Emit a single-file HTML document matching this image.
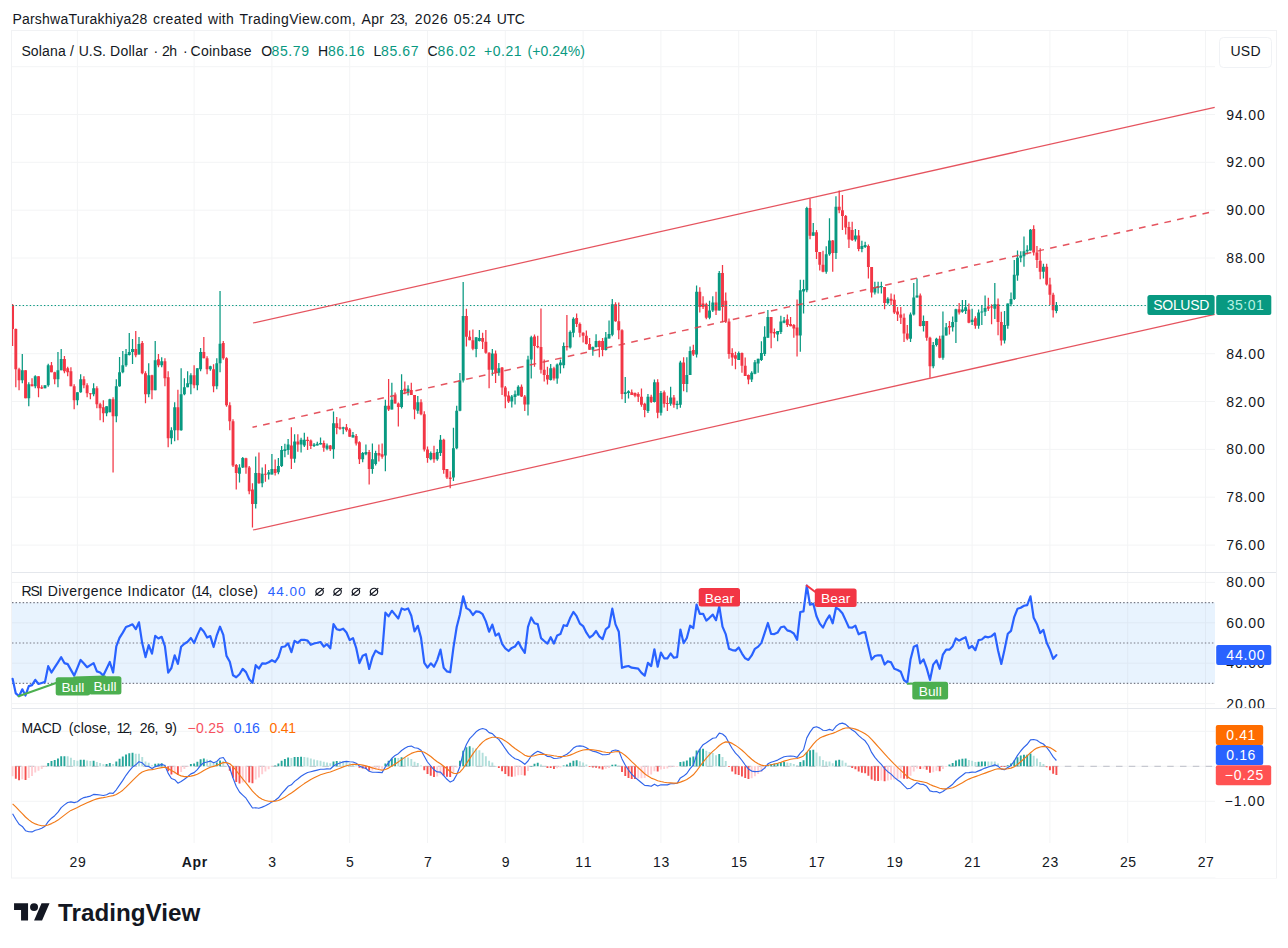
<!DOCTYPE html><html><head><meta charset="utf-8"><title>SOLUSD chart</title><style>html,body{margin:0;padding:0;background:#fff}body{width:1288px;height:948px;overflow:hidden;font-family:"Liberation Sans",sans-serif}svg{display:block}</style></head><body><svg width="1288" height="948" viewBox="0 0 1288 948" font-family="Liberation Sans, sans-serif">
<rect width="1288" height="948" fill="#fff"/>
<path d="M77.4 31V843 M194.1 31V843 M271.9 31V843 M349.7 31V843 M427.5 31V843 M505.3 31V843 M583.1 31V843 M660.9 31V843 M738.7 31V843 M816.5 31V843 M894.3 31V843 M972.1 31V843 M1049.9 31V843 M1127.7 31V843 M1205.5 31V843 M12 545.1H1215.0 M12 497.2H1215.0 M12 449.4H1215.0 M12 401.5H1215.0 M12 353.7H1215.0 M12 305.9H1215.0 M12 258.0H1215.0 M12 210.2H1215.0 M12 162.3H1215.0 M12 114.5H1215.0 M12 66.7H1215.0 M12 582.4H1215.0 M12 622.8H1215.0 M12 663.2H1215.0 M12 703.6H1215.0 M12 731.3H1215.0 M12 766.3H1215.0 M12 801.3H1215.0" stroke="#f3f4f5" stroke-width="1" fill="none"/>
<rect x="11.5" y="30.5" width="1265" height="847.5" fill="none" stroke="#f1f2f4" stroke-width="1"/>
<path d="M12 572.5H1276 M12 708.5H1276" stroke="#e4e7ec" stroke-width="1" fill="none"/>
<rect x="12" y="602.6" width="1203.0" height="80.8" fill="#e8f3fe"/>
<path d="M77.4 602.6V683.4 M194.1 602.6V683.4 M271.9 602.6V683.4 M349.7 602.6V683.4 M427.5 602.6V683.4 M505.3 602.6V683.4 M583.1 602.6V683.4 M660.9 602.6V683.4 M738.7 602.6V683.4 M816.5 602.6V683.4 M894.3 602.6V683.4 M972.1 602.6V683.4 M1049.9 602.6V683.4 M1127.7 602.6V683.4 M1205.5 602.6V683.4 M12 622.8H1215.0 M12 663.2H1215.0" stroke="#dfe9f4" stroke-width="1" fill="none"/>
<path d="M12 602.6H1215.0" stroke="#787b86" stroke-width="1.1" stroke-dasharray="1.5 2.05" fill="none"/>
<path d="M12 643.0H1215.0" stroke="#787b86" stroke-width="1.1" stroke-dasharray="1.5 2.05" fill="none"/>
<path d="M12 683.4H1215.0" stroke="#787b86" stroke-width="1.1" stroke-dasharray="1.5 2.05" fill="none"/>
<clipPath id="cp"><rect x="12" y="31" width="1203" height="812"/></clipPath><g clip-path="url(#cp)">
<path d="M22.30 354.1V383.2M28.78 382.2V406.2M35.26 375.2V388.2M44.99 385.2V388.2M48.23 363.7V386.7M57.96 352.1V387.2M61.20 349.1V370.2M77.41 392.2V405.2M80.65 374.2V392.7M93.62 383.2V396.2M106.58 406.2V416.3M109.82 398.7V412.2M116.31 379.2V422.3M119.55 357.1V386.7M122.79 351.1V373.2M126.03 349.1V366.7M129.27 333.1V355.6M132.52 339.1V364.1M139.00 337.1V354.5M148.72 363.2V397.2M155.21 341.1V390.2M161.69 357.2V367.2M171.42 427.3V444.3M174.66 402.2V441.3M181.14 368.2V430.8M184.38 378.2V395.2M187.62 371.2V387.2M190.87 373.2V394.2M197.35 368.2V390.2M200.59 348.1V371.2M210.32 365.7V370.7M216.80 358.2V389.2M220.04 291.0V372.2M239.49 464.3V482.5M242.73 457.0V468.0M255.70 456.4V508.6M262.18 467.5V487.3M268.67 469.9V479.4M271.91 454.1V474.6M278.39 458.0V474.2M281.63 446.1V466.9M284.88 443.8V457.2M288.12 439.0V454.8M294.60 434.3V462.8M301.08 437.8V452.5M304.33 432.7V446.9M314.05 443.1V447.1M317.29 441.8V445.4M320.53 437.4V444.6M327.02 443.4V450.3M333.50 411.4V458.8M343.23 426.7V434.3M352.95 431.9V437.4M362.68 452.1V462.2M365.92 444.6V455.3M372.40 443.4V473.7M375.64 450.7V465.5M385.37 399.8V471.3M391.85 382.8V409.5M401.58 374.3V408.5M408.06 385.2V395.5M417.79 396.1V413.7M430.75 451.6V460.2M437.24 448.9V460.7M440.48 434.9V456.1M453.44 427.7V481.0M456.69 405.8V449.3M459.93 373.1V411.2M463.17 282.1V382.4M476.14 337.3V357.2M479.38 329.9V341.5M492.34 349.1V375.7M498.83 363.1V375.7M511.79 394.9V407.4M515.04 390.5V404.5M518.28 385.3V395.6M528.00 355.7V415.6M531.24 335.8V378.6M550.69 363.9V380.6M557.18 363.6V383.8M560.42 359.4V373.5M563.66 342.4V368.3M570.15 330.6V348.6M573.39 317.3V337.3M592.84 346.4V355.7M596.08 334.3V347.4M605.80 332.1V350.5M609.05 320.4V338.4M612.29 298.9V336.3M625.25 376.9V402.9M628.50 390.3V398.4M647.95 394.0V413.0M654.43 379.6V402.5M660.91 391.1V415.5M670.64 386.8V405.8M677.12 400.8V409.2M680.36 360.8V407.7M686.85 357.2V392.2M690.09 346.4V375.1M696.57 285.5V357.5M709.54 300.7V319.3M712.78 296.2V312.1M719.26 271.1V310.6M738.71 351.4V359.9M751.68 371.2V381.9M754.92 359.9V374.3M758.16 358.7V372.7M761.41 341.3V360.9M764.65 326.2V356.1M767.89 310.0V337.8M777.61 330.9V341.3M780.86 315.8V334.0M784.10 317.0V323.3M800.31 279.8V351.8M803.55 279.8V313.5M806.79 206.7V292.3M813.27 222.9V235.7M826.24 246.2V273.7M829.48 218.3V255.8M835.96 196.2V258.9M855.41 229.0V241.6M861.90 240.7V252.3M865.14 241.7V248.0M874.86 281.8V294.5M878.11 281.8V293.4M881.35 281.8V293.4M887.83 297.2V304.4M910.52 312.4V342.0M913.77 282.9V315.5M917.01 278.6V297.6M923.49 315.6V331.4M933.22 342.1V368.3M936.46 337.8V346.6M942.94 311.4V359.8M946.18 323.0V335.6M952.67 316.6V331.4M955.91 308.7V343.0M962.39 299.9V312.7M965.63 299.9V313.9M972.12 308.7V325.0M978.60 309.5V328.7M981.84 305.0V325.0M985.08 295.4V316.1M994.81 282.9V319.1M1004.53 310.9V343.4M1007.77 303.6V328.7M1011.02 292.5V306.3M1014.26 260.0V300.1M1017.50 250.4V280.7M1020.74 251.2V262.2M1023.98 236.4V266.7M1027.22 245.3V254.2M1030.47 229.0V250.4M1043.43 263.7V278.5M1056.40 302.1V313.2" stroke="#089981" stroke-width="1.25" fill="none"/>
<path d="M12.57 304.0V346.1M15.81 328.6V387.2M19.06 367.7V390.2M25.54 370.2V398.2M32.02 378.2V386.2M38.51 376.2V397.2M41.75 385.2V389.1M51.47 362.1V372.2M54.71 371.7V384.2M64.44 356.1V373.2M67.68 366.7V376.2M70.92 367.2V386.2M74.16 384.2V409.2M83.89 376.2V388.2M87.13 383.2V397.2M90.37 393.2V399.2M96.86 386.2V408.2M100.10 402.7V420.3M103.34 400.2V422.3M113.07 397.2V472.4M135.76 331.1V357.2M142.24 341.1V374.2M145.48 371.2V403.2M151.97 374.7V399.2M158.45 354.1V367.2M164.93 358.2V386.2M168.17 371.2V447.3M177.90 389.8V440.3M194.11 365.2V388.2M203.83 337.1V358.2M207.07 356.2V374.2M213.56 364.2V392.2M223.28 341.1V359.7M226.52 357.2V406.8M229.77 402.2V430.3M233.01 419.3V466.9M236.25 464.1V489.6M245.98 457.8V473.8M249.22 465.9V494.2M252.46 483.3V527.6M258.94 452.5V483.8M265.43 464.3V481.7M275.15 459.6V475.4M291.36 427.2V469.1M297.84 434.3V451.7M307.57 436.7V450.1M310.81 439.6V449.1M323.78 440.6V451.7M330.26 444.9V450.9M336.74 416.9V434.3M339.98 418.5V429.7M346.47 424.0V431.8M349.71 428.0V436.7M356.19 434.1V445.4M359.43 441.2V464.0M369.16 449.9V484.6M378.88 444.6V461.6M382.13 443.4V458.8M388.61 379.1V411.0M395.09 392.5V403.4M398.33 402.4V426.4M404.82 381.6V394.3M411.30 382.8V394.9M414.54 394.9V419.2M421.03 399.2V415.3M424.27 411.3V451.5M427.51 446.5V462.8M433.99 445.8V462.8M443.72 438.8V473.7M446.96 468.9V478.9M450.20 471.3V488.3M466.41 308.8V346.4M469.65 330.6V340.3M472.89 329.4V350.3M482.62 332.8V349.1M485.86 329.9V353.8M489.10 352.3V388.2M495.59 350.5V383.1M502.07 367.1V394.9M505.31 386.0V408.2M508.55 391.2V403.0M521.52 384.5V396.9M524.76 394.9V411.1M534.49 334.5V366.8M537.73 335.8V348.3M540.97 308.5V373.5M544.21 359.4V381.6M547.45 366.8V384.5M553.94 366.8V380.6M566.90 315.1V350.6M576.63 313.6V327.0M579.87 322.5V337.3M583.11 332.3V342.4M586.35 330.6V344.4M589.60 338.0V349.8M599.32 340.5V357.2M602.56 338.1V356.3M615.53 302.3V321.8M618.77 302.5V339.3M622.01 329.3V399.3M631.74 389.5V394.9M634.98 392.6V397.3M638.22 392.2V402.0M641.46 388.6V406.7M644.70 402.8V417.3M651.19 394.7V403.0M657.67 379.3V418.2M664.15 390.4V407.4M667.40 395.8V411.0M673.88 394.9V407.7M683.60 357.2V391.3M693.33 344.7V356.0M699.81 287.3V312.4M703.05 296.2V309.0M706.30 302.8V319.3M716.02 291.8V315.1M722.50 264.9V322.2M725.75 292.6V323.1M728.99 318.6V358.7M732.23 348.3V365.7M735.47 351.8V369.2M741.96 352.4V372.7M745.20 357.6V376.1M748.44 374.5V384.3M771.13 317.0V348.3M774.37 328.6V337.8M787.34 314.6V327.1M790.58 317.0V326.2M793.82 324.1V337.8M797.06 299.5V356.4M810.03 198.6V239.2M816.51 229.9V258.9M819.76 252.0V270.5M823.00 250.8V272.2M832.72 239.9V271.7M839.21 190.4V213.2M842.45 195.1V229.9M845.69 215.0V234.5M848.93 221.7V248.0M852.17 221.7V241.0M858.66 230.1V251.2M868.38 244.4V278.6M871.62 267.0V297.6M884.59 287.1V309.2M891.07 293.4V305.0M894.32 294.5V313.9M897.56 307.1V320.9M900.80 307.1V324.0M904.04 313.5V342.0M907.28 325.1V340.3M920.25 293.4V326.6M926.73 320.9V340.7M929.97 336.7V377.8M939.70 335.8V358.3M949.42 320.9V334.6M959.15 302.9V314.4M968.87 303.6V323.2M975.36 316.3V328.7M988.32 297.7V310.9M991.57 304.3V324.2M998.05 298.4V335.3M1001.29 311.7V345.6M1033.71 225.3V255.6M1036.95 246.0V268.1M1040.19 248.2V279.2M1046.67 263.7V285.4M1049.92 277.7V305.0M1053.16 292.7V317.6" stroke="#f23645" stroke-width="1.25" fill="none"/>
<path d="M20.85 370.2h2.9V380.2h-2.9zM27.33 384.2h2.9V398.2h-2.9zM33.81 376.2h2.9V386.2h-2.9zM43.54 385.2h2.9V388.2h-2.9zM46.78 365.2h2.9V385.2h-2.9zM56.51 370.2h2.9V379.2h-2.9zM59.75 359.1h2.9V370.2h-2.9zM75.96 392.2h2.9V400.2h-2.9zM79.20 379.2h2.9V392.2h-2.9zM92.17 388.2h2.9V394.2h-2.9zM105.13 406.2h2.9V413.2h-2.9zM108.37 399.2h2.9V412.2h-2.9zM114.86 386.2h2.9V416.3h-2.9zM118.10 372.2h2.9V386.2h-2.9zM121.34 365.2h2.9V372.2h-2.9zM124.58 354.1h2.9V365.2h-2.9zM127.82 352.1h2.9V355.1h-2.9zM131.07 349.1h2.9V352.1h-2.9zM137.55 344.1h2.9V354.5h-2.9zM147.27 375.2h2.9V394.2h-2.9zM153.76 360.2h2.9V390.2h-2.9zM160.24 361.2h2.9V365.2h-2.9zM169.97 430.3h2.9V438.3h-2.9zM173.21 407.3h2.9V430.3h-2.9zM179.69 394.2h2.9V430.3h-2.9zM182.93 387.2h2.9V394.2h-2.9zM186.17 383.2h2.9V387.2h-2.9zM189.42 375.2h2.9V384.2h-2.9zM195.90 368.2h2.9V385.2h-2.9zM199.14 352.1h2.9V369.2h-2.9zM208.87 366.2h2.9V369.2h-2.9zM215.35 363.2h2.9V386.2h-2.9zM218.59 343.7h2.9V363.2h-2.9zM238.04 467.5h2.9V473.8h-2.9zM241.28 458.0h2.9V467.5h-2.9zM254.25 473.0h2.9V503.9h-2.9zM260.73 473.8h2.9V483.3h-2.9zM267.22 472.2h2.9V474.6h-2.9zM270.46 469.1h2.9V474.6h-2.9zM276.94 465.9h2.9V472.2h-2.9zM280.18 450.1h2.9V465.9h-2.9zM283.43 449.3h2.9V450.9h-2.9zM286.67 444.6h2.9V450.1h-2.9zM293.15 441.4h2.9V458.8h-2.9zM299.63 439.8h2.9V444.6h-2.9zM302.88 439.8h2.9V445.4h-2.9zM312.60 444.6h2.9V446.1h-2.9zM315.84 443.8h2.9V445.4h-2.9zM319.08 443.0h2.9V444.6h-2.9zM325.57 445.4h2.9V448.8h-2.9zM332.05 423.2h2.9V449.3h-2.9zM341.78 427.2h2.9V428.7h-2.9zM351.50 434.9h2.9V437.4h-2.9zM361.23 453.1h2.9V459.2h-2.9zM364.47 451.9h2.9V454.3h-2.9zM370.95 459.2h2.9V468.9h-2.9zM374.19 453.1h2.9V464.0h-2.9zM383.92 405.8h2.9V455.5h-2.9zM390.40 399.8h2.9V409.5h-2.9zM400.13 390.1h2.9V407.0h-2.9zM406.61 388.8h2.9V392.5h-2.9zM416.34 402.2h2.9V410.7h-2.9zM429.30 453.1h2.9V459.2h-2.9zM435.79 451.9h2.9V459.2h-2.9zM439.03 439.8h2.9V453.1h-2.9zM451.99 448.3h2.9V477.4h-2.9zM455.24 410.7h2.9V448.3h-2.9zM458.48 380.4h2.9V410.7h-2.9zM461.72 316.1h2.9V380.4h-2.9zM474.69 337.3h2.9V349.1h-2.9zM477.93 338.0h2.9V341.0h-2.9zM490.89 353.5h2.9V369.8h-2.9zM497.38 368.3h2.9V372.7h-2.9zM510.34 396.4h2.9V401.5h-2.9zM513.59 394.2h2.9V397.1h-2.9zM516.83 386.8h2.9V395.6h-2.9zM526.55 359.4h2.9V404.5h-2.9zM529.79 337.3h2.9V359.4h-2.9zM549.24 368.3h2.9V380.1h-2.9zM555.73 364.6h2.9V378.6h-2.9zM558.97 362.4h2.9V365.3h-2.9zM562.21 346.1h2.9V365.3h-2.9zM568.70 332.1h2.9V347.6h-2.9zM571.94 318.8h2.9V332.8h-2.9zM591.39 346.9h2.9V349.8h-2.9zM594.63 341.0h2.9V346.9h-2.9zM604.35 337.5h2.9V350.0h-2.9zM607.60 333.9h2.9V338.4h-2.9zM610.84 304.3h2.9V334.8h-2.9zM623.80 392.2h2.9V394.0h-2.9zM627.05 391.3h2.9V393.1h-2.9zM646.50 396.7h2.9V411.0h-2.9zM652.98 382.3h2.9V402.0h-2.9zM659.46 393.1h2.9V412.8h-2.9zM669.19 397.5h2.9V403.8h-2.9zM675.67 403.8h2.9V404.9h-2.9zM678.91 362.6h2.9V404.7h-2.9zM685.40 375.1h2.9V384.1h-2.9zM688.64 350.9h2.9V375.1h-2.9zM695.12 291.8h2.9V354.5h-2.9zM708.09 310.6h2.9V317.8h-2.9zM711.33 302.5h2.9V310.6h-2.9zM717.81 272.9h2.9V310.6h-2.9zM737.26 352.9h2.9V359.9h-2.9zM750.23 372.7h2.9V379.6h-2.9zM753.47 362.2h2.9V373.8h-2.9zM756.71 358.7h2.9V363.4h-2.9zM759.96 352.9h2.9V359.9h-2.9zM763.20 336.7h2.9V354.1h-2.9zM766.44 317.0h2.9V337.8h-2.9zM776.16 330.9h2.9V334.4h-2.9zM779.41 321.6h2.9V332.0h-2.9zM782.65 320.4h2.9V322.8h-2.9zM798.86 290.3h2.9V335.5h-2.9zM802.10 289.1h2.9V291.4h-2.9zM805.34 207.9h2.9V290.3h-2.9zM811.82 232.2h2.9V235.7h-2.9zM824.79 254.3h2.9V271.7h-2.9zM828.03 240.4h2.9V254.3h-2.9zM834.51 206.7h2.9V253.1h-2.9zM853.96 235.4h2.9V239.6h-2.9zM860.45 245.9h2.9V249.1h-2.9zM863.69 244.9h2.9V247.0h-2.9zM873.41 287.1h2.9V292.4h-2.9zM876.66 286.0h2.9V288.1h-2.9zM879.90 286.0h2.9V287.3h-2.9zM886.38 298.7h2.9V302.9h-2.9zM909.07 314.5h2.9V338.8h-2.9zM912.32 297.6h2.9V314.5h-2.9zM915.56 295.5h2.9V297.6h-2.9zM922.04 320.9h2.9V326.1h-2.9zM931.77 345.1h2.9V366.2h-2.9zM935.01 338.8h2.9V345.1h-2.9zM941.49 335.6h2.9V357.8h-2.9zM944.73 327.2h2.9V335.6h-2.9zM951.22 321.9h2.9V327.2h-2.9zM954.46 309.2h2.9V321.9h-2.9zM960.94 309.5h2.9V311.7h-2.9zM964.18 307.3h2.9V310.9h-2.9zM970.67 319.8h2.9V322.0h-2.9zM977.15 312.4h2.9V325.7h-2.9zM980.39 311.6h2.9V312.6h-2.9zM983.63 308.0h2.9V311.7h-2.9zM993.36 304.3h2.9V308.7h-2.9zM1003.08 325.0h2.9V340.5h-2.9zM1006.32 303.6h2.9V325.7h-2.9zM1009.57 299.1h2.9V304.3h-2.9zM1012.81 274.8h2.9V299.1h-2.9zM1016.05 257.8h2.9V275.5h-2.9zM1019.29 255.6h2.9V257.8h-2.9zM1022.53 251.2h2.9V256.3h-2.9zM1025.77 249.7h2.9V251.2h-2.9zM1029.02 229.8h2.9V250.4h-2.9zM1041.98 266.7h2.9V271.8h-2.9zM1054.95 305.0h2.9V310.9h-2.9z" fill="#089981"/>
<path d="M11.12 305.0h2.9V329.1h-2.9zM14.36 329.1h2.9V369.2h-2.9zM17.61 369.2h2.9V380.2h-2.9zM24.09 370.2h2.9V398.2h-2.9zM30.57 384.2h2.9V386.2h-2.9zM37.06 376.2h2.9V388.2h-2.9zM40.30 387.2h2.9V388.6h-2.9zM50.02 365.2h2.9V372.2h-2.9zM53.26 372.2h2.9V379.2h-2.9zM62.99 359.1h2.9V371.2h-2.9zM66.23 368.2h2.9V372.2h-2.9zM69.47 371.2h2.9V386.2h-2.9zM72.71 386.2h2.9V400.2h-2.9zM82.44 379.2h2.9V385.2h-2.9zM85.68 385.2h2.9V393.2h-2.9zM88.92 393.2h2.9V394.2h-2.9zM95.41 388.2h2.9V404.2h-2.9zM98.65 404.2h2.9V408.2h-2.9zM101.89 407.2h2.9V413.2h-2.9zM111.62 399.2h2.9V416.3h-2.9zM134.31 349.1h2.9V355.2h-2.9zM140.79 343.1h2.9V373.2h-2.9zM144.03 373.2h2.9V394.2h-2.9zM150.52 375.2h2.9V390.2h-2.9zM157.00 359.2h2.9V365.2h-2.9zM163.48 361.2h2.9V378.2h-2.9zM166.72 377.2h2.9V438.3h-2.9zM176.45 407.3h2.9V430.3h-2.9zM192.66 375.2h2.9V385.2h-2.9zM202.38 352.1h2.9V358.2h-2.9zM205.62 358.2h2.9V369.2h-2.9zM212.11 369.2h2.9V386.2h-2.9zM221.83 343.1h2.9V358.2h-2.9zM225.07 358.2h2.9V405.3h-2.9zM228.32 405.3h2.9V421.3h-2.9zM231.56 421.3h2.9V465.4h-2.9zM234.80 465.1h2.9V473.0h-2.9zM244.53 458.3h2.9V467.5h-2.9zM247.77 467.5h2.9V491.2h-2.9zM251.01 489.6h2.9V503.9h-2.9zM257.49 473.0h2.9V483.3h-2.9zM263.98 473.8h2.9V474.8h-2.9zM273.70 469.1h2.9V473.0h-2.9zM289.91 445.4h2.9V458.8h-2.9zM296.39 441.4h2.9V444.6h-2.9zM306.12 439.8h2.9V440.9h-2.9zM309.36 440.6h2.9V446.1h-2.9zM322.33 443.0h2.9V447.7h-2.9zM328.81 445.4h2.9V449.3h-2.9zM335.29 423.2h2.9V428.0h-2.9zM338.53 427.2h2.9V428.7h-2.9zM345.02 427.2h2.9V430.3h-2.9zM348.26 429.5h2.9V436.7h-2.9zM354.74 436.1h2.9V443.4h-2.9zM357.98 442.2h2.9V459.2h-2.9zM367.71 451.9h2.9V468.9h-2.9zM377.43 453.1h2.9V455.5h-2.9zM380.68 454.3h2.9V456.8h-2.9zM387.16 405.8h2.9V409.5h-2.9zM393.64 396.1h2.9V403.4h-2.9zM396.88 403.4h2.9V407.0h-2.9zM403.37 388.8h2.9V391.3h-2.9zM409.85 390.1h2.9V394.9h-2.9zM413.09 394.9h2.9V409.5h-2.9zM419.58 402.2h2.9V414.3h-2.9zM422.82 414.3h2.9V449.5h-2.9zM426.06 449.5h2.9V458.0h-2.9zM432.54 453.1h2.9V459.2h-2.9zM442.27 439.8h2.9V470.1h-2.9zM445.51 468.9h2.9V477.4h-2.9zM448.75 477.4h2.9V479.1h-2.9zM464.96 316.1h2.9V336.7h-2.9zM468.20 336.7h2.9V340.3h-2.9zM471.44 340.3h2.9V348.8h-2.9zM481.17 338.0h2.9V341.7h-2.9zM484.41 341.7h2.9V352.8h-2.9zM487.65 352.8h2.9V369.8h-2.9zM494.14 353.5h2.9V372.7h-2.9zM500.62 367.6h2.9V387.5h-2.9zM503.86 387.5h2.9V396.4h-2.9zM507.10 395.6h2.9V401.5h-2.9zM520.07 386.8h2.9V396.4h-2.9zM523.31 396.4h2.9V404.5h-2.9zM533.04 336.5h2.9V346.1h-2.9zM536.28 346.1h2.9V347.3h-2.9zM539.52 346.9h2.9V369.8h-2.9zM542.76 369.8h2.9V374.9h-2.9zM546.00 374.9h2.9V379.4h-2.9zM552.49 368.3h2.9V378.6h-2.9zM565.45 346.1h2.9V347.2h-2.9zM575.18 318.1h2.9V324.0h-2.9zM578.42 324.0h2.9V332.8h-2.9zM581.66 332.8h2.9V335.8h-2.9zM584.90 335.8h2.9V343.9h-2.9zM588.15 343.9h2.9V349.8h-2.9zM597.87 341.0h2.9V346.9h-2.9zM601.11 341.1h2.9V350.0h-2.9zM614.08 304.3h2.9V321.3h-2.9zM617.32 321.3h2.9V330.3h-2.9zM620.56 330.3h2.9V394.0h-2.9zM630.29 392.2h2.9V394.9h-2.9zM633.53 393.1h2.9V395.8h-2.9zM636.77 394.0h2.9V396.7h-2.9zM640.01 396.7h2.9V404.7h-2.9zM643.25 403.8h2.9V410.1h-2.9zM649.74 396.7h2.9V402.0h-2.9zM656.22 382.3h2.9V412.8h-2.9zM662.70 392.2h2.9V403.8h-2.9zM665.95 402.9h2.9V404.0h-2.9zM672.43 397.5h2.9V404.7h-2.9zM682.15 362.6h2.9V384.1h-2.9zM691.88 350.0h2.9V354.5h-2.9zM698.36 291.8h2.9V307.0h-2.9zM701.60 303.4h2.9V307.0h-2.9zM704.85 304.3h2.9V317.8h-2.9zM714.57 302.5h2.9V310.6h-2.9zM721.05 272.9h2.9V307.0h-2.9zM724.30 300.7h2.9V321.6h-2.9zM727.54 321.6h2.9V354.1h-2.9zM730.78 352.9h2.9V357.6h-2.9zM734.02 355.3h2.9V358.7h-2.9zM740.51 352.9h2.9V365.7h-2.9zM743.75 365.7h2.9V376.1h-2.9zM746.99 375.0h2.9V379.6h-2.9zM769.68 317.0h2.9V333.2h-2.9zM772.92 332.0h2.9V333.4h-2.9zM785.89 319.3h2.9V325.1h-2.9zM789.13 323.9h2.9V326.2h-2.9zM792.37 325.1h2.9V328.6h-2.9zM795.61 327.4h2.9V335.5h-2.9zM808.58 207.9h2.9V235.7h-2.9zM815.06 232.2h2.9V252.0h-2.9zM818.31 252.0h2.9V264.7h-2.9zM821.55 264.7h2.9V271.7h-2.9zM831.27 240.4h2.9V253.1h-2.9zM837.76 206.7h2.9V210.2h-2.9zM841.00 210.2h2.9V216.0h-2.9zM844.24 216.0h2.9V227.6h-2.9zM847.48 226.9h2.9V239.6h-2.9zM850.72 230.1h2.9V240.0h-2.9zM857.21 235.4h2.9V249.1h-2.9zM866.93 245.9h2.9V267.0h-2.9zM870.17 267.0h2.9V292.4h-2.9zM883.14 287.1h2.9V302.9h-2.9zM889.62 298.7h2.9V300.8h-2.9zM892.87 299.8h2.9V312.4h-2.9zM896.11 311.4h2.9V314.5h-2.9zM899.35 314.5h2.9V317.7h-2.9zM902.59 317.7h2.9V333.5h-2.9zM905.83 333.5h2.9V338.8h-2.9zM918.80 295.5h2.9V326.1h-2.9zM925.28 320.9h2.9V337.7h-2.9zM928.52 337.7h2.9V366.2h-2.9zM938.25 338.8h2.9V357.8h-2.9zM947.97 326.1h2.9V327.4h-2.9zM957.70 309.2h2.9V312.4h-2.9zM967.42 309.5h2.9V322.7h-2.9zM973.91 318.3h2.9V325.7h-2.9zM986.87 306.5h2.9V308.7h-2.9zM990.12 306.5h2.9V307.5h-2.9zM996.60 304.3h2.9V322.0h-2.9zM999.84 322.0h2.9V340.5h-2.9zM1032.26 229.0h2.9V252.6h-2.9zM1035.50 252.6h2.9V260.0h-2.9zM1038.74 260.8h2.9V271.8h-2.9zM1045.22 266.7h2.9V284.4h-2.9zM1048.47 284.4h2.9V294.7h-2.9zM1051.71 294.7h2.9V310.2h-2.9z" fill="#f23645"/>
</g>
<path d="M12 305.5H1215.0" stroke="#089981" stroke-width="1.05" stroke-dasharray="1.4 2.15" fill="none"/>
<path d="M253 323L1214.7 107.4" stroke="#e2404d" stroke-width="1.25" fill="none" opacity="0.9"/>
<path d="M253 530L1214.7 314.4" stroke="#e2404d" stroke-width="1.25" fill="none" opacity="0.9"/>
<path d="M1209 212.6L252.5 427.3" stroke="#e2404d" stroke-width="1.5" stroke-dasharray="6.7 6.31" fill="none" opacity="0.9"/>
<polyline points="12.6,678.8 15.8,693.4 19.1,696.2 22.3,689.3 25.5,695.5 28.8,686.1 32.0,685.1 35.3,679.8 38.5,684.0 41.7,683.0 45.0,681.9 48.2,666.2 51.5,672.5 54.7,667.4 58.0,662.3 61.2,657.2 64.4,663.1 67.7,664.1 70.9,669.9 74.2,675.6 77.4,667.8 80.6,659.9 83.9,663.6 87.1,667.2 90.4,665.1 93.6,663.1 96.9,671.4 100.1,672.5 103.3,675.6 106.6,668.8 109.8,662.0 113.1,672.5 116.3,646.3 119.5,637.9 122.8,632.6 126.0,627.0 129.3,625.7 132.5,624.3 135.8,629.2 139.0,622.3 142.2,643.1 145.5,657.1 148.7,645.1 152.0,653.6 155.2,635.9 158.4,638.5 161.7,636.8 164.9,646.2 168.2,672.6 171.4,668.0 174.7,655.3 177.9,663.9 181.1,646.7 184.4,643.7 187.6,641.7 190.9,638.0 194.1,643.0 197.3,635.1 200.6,628.1 203.8,631.5 207.1,637.6 210.3,636.1 213.6,647.0 216.8,635.3 220.0,626.7 223.3,634.8 226.5,655.9 229.8,661.8 233.0,675.3 236.2,677.3 239.5,674.2 242.7,668.9 246.0,672.1 249.2,679.3 252.5,682.8 255.7,665.2 258.9,668.6 262.2,663.4 265.4,663.7 268.7,662.2 271.9,660.2 275.2,662.0 278.4,657.2 281.6,647.0 284.9,646.5 288.1,643.4 291.4,652.2 294.6,640.8 297.8,642.9 301.1,639.8 304.3,639.8 307.6,640.6 310.8,644.8 314.1,643.5 317.3,642.8 320.5,642.0 323.8,646.7 327.0,644.2 330.3,648.3 333.5,624.1 336.7,629.2 340.0,630.1 343.2,628.7 346.5,632.5 349.7,640.1 353.0,638.1 356.2,648.0 359.4,663.1 362.7,655.7 365.9,654.2 369.2,668.9 372.4,657.3 375.6,650.6 378.9,652.9 382.1,654.1 385.4,612.6 388.6,616.3 391.9,610.8 395.1,614.6 398.3,618.5 401.6,608.5 404.8,609.8 408.1,608.4 411.3,615.7 414.5,631.4 417.8,625.8 421.0,637.6 424.3,662.9 427.5,667.6 430.8,663.3 434.0,666.8 437.2,660.1 440.5,649.6 443.7,667.8 447.0,671.4 450.2,672.3 453.4,647.9 456.7,627.0 459.9,614.5 463.2,596.3 466.4,608.1 469.7,610.1 472.9,615.0 476.1,611.3 479.4,611.8 482.6,614.2 485.9,621.4 489.1,631.7 492.3,624.6 495.6,635.6 498.8,633.5 502.1,643.9 505.3,648.4 508.6,651.0 511.8,647.9 515.0,646.5 518.3,641.8 521.5,647.9 524.8,652.8 528.0,626.9 531.2,617.5 534.5,623.3 537.7,624.1 541.0,638.1 544.2,641.0 547.5,643.6 550.7,637.2 553.9,643.6 557.2,635.4 560.4,634.1 563.7,625.2 566.9,626.0 570.1,618.1 573.4,611.9 576.6,616.2 579.9,623.6 583.1,626.1 586.4,632.7 589.6,637.5 592.8,635.3 596.1,631.0 599.3,636.4 602.6,639.2 605.8,629.3 609.0,626.7 612.3,608.7 615.5,624.4 618.8,631.8 622.0,667.8 625.3,666.6 628.5,666.0 631.7,667.7 635.0,668.1 638.2,668.6 641.5,672.9 644.7,675.7 647.9,662.9 651.2,666.1 654.4,649.3 657.7,666.7 660.9,652.6 664.2,658.3 667.4,658.4 670.6,653.5 673.9,657.8 677.1,657.1 680.4,629.6 683.6,643.1 686.8,638.0 690.1,625.7 693.3,628.1 696.6,604.5 699.8,613.8 703.1,613.8 706.3,620.6 709.5,617.8 712.8,614.6 716.0,620.2 719.3,606.3 722.5,626.6 725.7,634.1 729.0,648.7 732.2,650.1 735.5,650.6 738.7,647.5 742.0,653.6 745.2,658.3 748.4,659.9 751.7,655.4 754.9,648.8 758.2,646.6 761.4,642.9 764.6,633.2 767.9,623.0 771.1,633.9 774.4,634.1 777.6,632.6 780.9,627.2 784.1,626.5 787.3,630.4 790.6,631.4 793.8,633.5 797.1,639.8 800.3,612.0 803.5,611.4 806.8,585.7 810.0,604.7 813.3,603.7 816.5,616.2 819.8,623.6 823.0,627.6 826.2,620.6 829.5,615.4 832.7,623.3 836.0,607.6 839.2,609.7 842.4,613.3 845.7,620.4 848.9,627.5 852.2,627.7 855.4,625.6 858.7,634.3 861.9,632.7 865.1,632.1 868.4,646.3 871.6,659.4 874.9,656.0 878.1,655.3 881.3,655.3 884.6,664.5 887.8,661.2 891.1,662.4 894.3,668.8 897.6,670.0 900.8,671.8 904.0,680.1 907.3,682.6 910.5,659.6 913.8,646.7 917.0,645.2 920.2,663.4 923.5,659.4 926.7,668.1 930.0,680.0 933.2,664.6 936.5,660.4 939.7,668.8 942.9,654.6 946.2,649.6 949.4,649.7 952.7,646.2 955.9,638.5 959.1,640.6 962.4,638.7 965.6,637.2 968.9,648.3 972.1,646.0 975.4,650.2 978.6,640.1 981.8,639.5 985.1,636.7 988.3,637.3 991.6,636.2 994.8,633.4 998.0,650.3 1001.3,664.0 1004.5,649.7 1007.8,633.8 1011.0,630.9 1014.3,616.8 1017.5,608.8 1020.7,607.8 1024.0,605.8 1027.2,605.1 1030.5,596.4 1033.7,617.8 1036.9,623.9 1040.2,633.0 1043.4,629.9 1046.7,642.8 1049.9,649.6 1053.2,658.8 1056.4,655.1" fill="none" stroke="#2962ff" stroke-width="2.2" stroke-linejoin="round" stroke-linecap="round"/>
<path d="M12 766.3H1215.0" stroke="#bcbfc7" stroke-width="1" stroke-dasharray="6.5 6.3" stroke-dashoffset="9.6" fill="none"/>
<path d="M47.28 763.0h1.9v3.3h-1.9zM50.52 760.9h1.9v5.4h-1.9zM53.76 760.0h1.9v6.3h-1.9zM57.01 758.4h1.9v7.9h-1.9zM60.25 756.3h1.9v10.0h-1.9zM63.49 756.2h1.9v10.1h-1.9zM79.70 759.7h1.9v6.6h-1.9zM82.94 759.7h1.9v6.6h-1.9zM92.67 760.7h1.9v5.6h-1.9zM105.63 764.0h1.9v2.3h-1.9zM108.87 763.1h1.9v3.2h-1.9zM115.36 761.6h1.9v4.7h-1.9zM118.60 758.8h1.9v7.5h-1.9zM121.84 756.5h1.9v9.8h-1.9zM125.08 754.4h1.9v11.9h-1.9zM128.32 753.3h1.9v13.0h-1.9zM131.57 752.8h1.9v13.5h-1.9zM154.26 763.8h1.9v2.5h-1.9zM157.50 763.6h1.9v2.7h-1.9zM160.74 763.2h1.9v3.1h-1.9zM189.92 764.1h1.9v2.2h-1.9zM193.16 763.6h1.9v2.7h-1.9zM196.40 761.7h1.9v4.6h-1.9zM199.64 759.2h1.9v7.1h-1.9zM202.88 758.5h1.9v7.8h-1.9zM215.85 762.4h1.9v3.9h-1.9zM219.09 760.6h1.9v5.7h-1.9zM274.20 765.4h1.9v0.9h-1.9zM277.44 763.6h1.9v2.7h-1.9zM280.68 760.8h1.9v5.5h-1.9zM283.93 759.0h1.9v7.3h-1.9zM287.17 757.5h1.9v8.8h-1.9zM293.65 757.0h1.9v9.3h-1.9zM296.89 756.9h1.9v9.4h-1.9zM300.13 756.7h1.9v9.6h-1.9zM332.55 761.5h1.9v4.8h-1.9zM335.79 761.1h1.9v5.2h-1.9zM384.42 763.6h1.9v2.7h-1.9zM387.66 760.8h1.9v5.5h-1.9zM390.90 758.5h1.9v7.8h-1.9zM394.14 757.7h1.9v8.6h-1.9zM400.63 757.2h1.9v9.1h-1.9zM458.98 760.8h1.9v5.5h-1.9zM462.22 750.8h1.9v15.5h-1.9zM465.46 747.2h1.9v19.1h-1.9zM468.70 746.3h1.9v20.0h-1.9zM530.29 766.0h1.9v0.6h-1.9zM533.54 763.8h1.9v2.5h-1.9zM536.78 762.8h1.9v3.5h-1.9zM562.71 765.6h1.9v0.7h-1.9zM565.95 764.6h1.9v1.7h-1.9zM569.20 762.8h1.9v3.5h-1.9zM572.44 760.7h1.9v5.6h-1.9zM575.68 760.3h1.9v6.0h-1.9zM611.34 764.7h1.9v1.6h-1.9zM614.58 764.5h1.9v1.8h-1.9zM679.41 762.1h1.9v4.2h-1.9zM682.65 761.5h1.9v4.8h-1.9zM685.90 760.4h1.9v5.9h-1.9zM689.14 757.6h1.9v8.7h-1.9zM692.38 756.6h1.9v9.7h-1.9zM695.62 750.5h1.9v15.8h-1.9zM698.86 748.9h1.9v17.4h-1.9zM702.10 748.8h1.9v17.5h-1.9zM718.31 753.9h1.9v12.4h-1.9zM766.94 764.8h1.9v1.5h-1.9zM770.18 763.9h1.9v2.4h-1.9zM773.42 763.5h1.9v2.8h-1.9zM776.66 763.2h1.9v3.1h-1.9zM779.91 762.3h1.9v4.0h-1.9zM783.15 761.9h1.9v4.4h-1.9zM799.36 762.0h1.9v4.3h-1.9zM802.60 760.2h1.9v6.1h-1.9zM805.84 751.9h1.9v14.4h-1.9zM809.08 750.2h1.9v16.1h-1.9zM812.32 749.8h1.9v16.5h-1.9zM835.01 760.6h1.9v5.7h-1.9zM838.26 759.8h1.9v6.5h-1.9zM948.47 764.6h1.9v1.7h-1.9zM951.72 762.9h1.9v3.4h-1.9zM954.96 760.6h1.9v5.7h-1.9zM958.20 759.5h1.9v6.8h-1.9zM961.44 758.8h1.9v7.5h-1.9zM964.68 758.4h1.9v7.9h-1.9zM977.65 761.7h1.9v4.6h-1.9zM980.89 761.6h1.9v4.7h-1.9zM984.13 761.4h1.9v4.9h-1.9zM1006.82 765.2h1.9v1.1h-1.9zM1010.07 763.6h1.9v2.7h-1.9zM1013.31 760.6h1.9v5.7h-1.9zM1016.55 757.3h1.9v9.0h-1.9zM1019.79 755.6h1.9v10.7h-1.9zM1023.03 754.7h1.9v11.6h-1.9zM1026.27 754.7h1.9v11.6h-1.9zM1029.52 753.5h1.9v12.8h-1.9z" fill="#26a69a"/>
<path d="M66.73 756.3h1.9v10.0h-1.9zM69.97 757.8h1.9v8.5h-1.9zM73.21 760.0h1.9v6.3h-1.9zM76.46 760.7h1.9v5.6h-1.9zM86.18 760.5h1.9v5.8h-1.9zM89.42 761.0h1.9v5.3h-1.9zM95.91 762.0h1.9v4.3h-1.9zM99.15 763.1h1.9v3.2h-1.9zM102.39 764.2h1.9v2.1h-1.9zM112.12 764.0h1.9v2.3h-1.9zM134.81 753.7h1.9v12.6h-1.9zM138.05 753.7h1.9v12.6h-1.9zM141.29 757.1h1.9v9.2h-1.9zM144.53 761.6h1.9v4.7h-1.9zM147.77 762.8h1.9v3.5h-1.9zM151.02 765.2h1.9v1.1h-1.9zM163.98 764.7h1.9v1.6h-1.9zM206.12 759.5h1.9v6.8h-1.9zM209.37 760.1h1.9v6.2h-1.9zM212.61 762.7h1.9v3.6h-1.9zM222.33 761.1h1.9v5.2h-1.9zM225.57 766.2h1.9v0.6h-1.9zM290.41 758.1h1.9v8.2h-1.9zM303.38 756.9h1.9v9.4h-1.9zM306.62 757.4h1.9v8.9h-1.9zM309.86 758.6h1.9v7.7h-1.9zM313.10 759.5h1.9v6.8h-1.9zM316.34 760.2h1.9v6.1h-1.9zM319.58 760.8h1.9v5.5h-1.9zM322.83 761.8h1.9v4.5h-1.9zM326.07 762.4h1.9v3.9h-1.9zM329.31 763.3h1.9v3.0h-1.9zM339.03 761.1h1.9v5.2h-1.9zM342.28 761.2h1.9v5.1h-1.9zM345.52 761.9h1.9v4.4h-1.9zM348.76 763.1h1.9v3.2h-1.9zM352.00 763.9h1.9v2.4h-1.9zM355.24 765.3h1.9v1.0h-1.9zM397.38 758.1h1.9v8.2h-1.9zM403.87 757.3h1.9v9.0h-1.9zM407.11 757.6h1.9v8.7h-1.9zM410.35 759.0h1.9v7.3h-1.9zM413.59 761.7h1.9v4.6h-1.9zM416.84 763.1h1.9v3.2h-1.9zM420.08 765.4h1.9v0.9h-1.9zM471.94 747.7h1.9v18.6h-1.9zM475.19 748.6h1.9v17.7h-1.9zM478.43 750.3h1.9v16.0h-1.9zM481.67 752.7h1.9v13.6h-1.9zM484.91 756.2h1.9v10.1h-1.9zM488.15 760.8h1.9v5.5h-1.9zM491.39 762.6h1.9v3.7h-1.9zM494.64 766.1h1.9v0.6h-1.9zM540.02 764.5h1.9v1.8h-1.9zM543.26 766.3h1.9v0.6h-1.9zM578.92 761.3h1.9v5.0h-1.9zM582.16 762.6h1.9v3.7h-1.9zM585.40 764.5h1.9v1.8h-1.9zM617.82 765.4h1.9v0.9h-1.9zM705.35 750.7h1.9v15.6h-1.9zM708.59 752.1h1.9v14.2h-1.9zM711.83 753.1h1.9v13.2h-1.9zM715.07 755.3h1.9v11.0h-1.9zM721.55 757.0h1.9v9.3h-1.9zM724.80 761.1h1.9v5.2h-1.9zM786.39 762.4h1.9v3.9h-1.9zM789.63 763.0h1.9v3.3h-1.9zM792.87 763.9h1.9v2.4h-1.9zM796.11 765.3h1.9v1.0h-1.9zM815.56 752.4h1.9v13.9h-1.9zM818.81 756.2h1.9v10.1h-1.9zM822.05 760.1h1.9v6.2h-1.9zM825.29 761.4h1.9v4.9h-1.9zM828.53 761.5h1.9v4.8h-1.9zM831.77 763.3h1.9v3.0h-1.9zM841.50 760.5h1.9v5.8h-1.9zM844.74 762.7h1.9v3.6h-1.9zM847.98 765.7h1.9v0.6h-1.9zM967.92 759.9h1.9v6.4h-1.9zM971.17 760.7h1.9v5.6h-1.9zM974.41 762.0h1.9v4.3h-1.9zM987.37 761.5h1.9v4.8h-1.9zM990.62 761.6h1.9v4.7h-1.9zM993.86 761.6h1.9v4.7h-1.9zM997.10 763.5h1.9v2.8h-1.9zM1032.76 755.7h1.9v10.6h-1.9zM1036.00 758.5h1.9v7.8h-1.9zM1039.24 761.9h1.9v4.4h-1.9zM1042.48 763.9h1.9v2.4h-1.9z" fill="#b2dfdb"/>
<path d="M14.86 766.3h1.9v12.4h-1.9zM18.11 766.3h1.9v14.0h-1.9zM24.59 766.3h1.9v13.7h-1.9zM167.22 766.3h1.9v5.0h-1.9zM170.47 766.3h1.9v8.1h-1.9zM176.95 766.3h1.9v8.7h-1.9zM228.82 766.3h1.9v4.5h-1.9zM232.06 766.3h1.9v11.4h-1.9zM235.30 766.3h1.9v15.8h-1.9zM238.54 766.3h1.9v17.2h-1.9zM248.27 766.3h1.9v16.3h-1.9zM251.51 766.3h1.9v16.9h-1.9zM358.48 766.3h1.9v1.4h-1.9zM361.73 766.3h1.9v2.3h-1.9zM364.97 766.3h1.9v2.7h-1.9zM368.21 766.3h1.9v4.4h-1.9zM423.32 766.3h1.9v4.0h-1.9zM426.56 766.3h1.9v7.8h-1.9zM429.80 766.3h1.9v9.4h-1.9zM433.04 766.3h1.9v10.6h-1.9zM442.77 766.3h1.9v9.5h-1.9zM446.01 766.3h1.9v10.5h-1.9zM449.25 766.3h1.9v10.7h-1.9zM497.88 766.3h1.9v1.8h-1.9zM501.12 766.3h1.9v5.0h-1.9zM504.36 766.3h1.9v7.8h-1.9zM507.60 766.3h1.9v9.9h-1.9zM510.84 766.3h1.9v10.4h-1.9zM523.81 766.3h1.9v9.1h-1.9zM546.50 766.3h1.9v1.6h-1.9zM549.74 766.3h1.9v1.6h-1.9zM552.99 766.3h1.9v2.6h-1.9zM588.65 766.3h1.9v0.6h-1.9zM591.89 766.3h1.9v1.3h-1.9zM595.13 766.3h1.9v1.5h-1.9zM598.37 766.3h1.9v2.3h-1.9zM601.61 766.3h1.9v3.1h-1.9zM621.06 766.3h1.9v5.8h-1.9zM624.30 766.3h1.9v9.7h-1.9zM627.55 766.3h1.9v11.6h-1.9zM630.79 766.3h1.9v12.6h-1.9zM634.03 766.3h1.9v12.7h-1.9zM656.72 766.3h1.9v5.3h-1.9zM728.04 766.3h1.9v0.8h-1.9zM731.28 766.3h1.9v5.1h-1.9zM734.52 766.3h1.9v7.9h-1.9zM737.76 766.3h1.9v8.8h-1.9zM741.01 766.3h1.9v10.3h-1.9zM744.25 766.3h1.9v11.8h-1.9zM747.49 766.3h1.9v12.6h-1.9zM851.22 766.3h1.9v1.7h-1.9zM854.46 766.3h1.9v3.0h-1.9zM857.71 766.3h1.9v5.3h-1.9zM860.95 766.3h1.9v6.4h-1.9zM864.19 766.3h1.9v7.0h-1.9zM867.43 766.3h1.9v9.4h-1.9zM870.67 766.3h1.9v13.1h-1.9zM873.91 766.3h1.9v14.4h-1.9zM877.16 766.3h1.9v14.6h-1.9zM883.64 766.3h1.9v14.9h-1.9zM903.09 766.3h1.9v12.4h-1.9zM906.33 766.3h1.9v12.4h-1.9zM919.30 766.3h1.9v2.8h-1.9zM925.78 766.3h1.9v3.5h-1.9zM929.02 766.3h1.9v6.5h-1.9zM938.75 766.3h1.9v4.9h-1.9zM1000.34 766.3h1.9v0.6h-1.9zM1003.58 766.3h1.9v0.7h-1.9zM1045.72 766.3h1.9v0.9h-1.9zM1048.97 766.3h1.9v4.0h-1.9zM1052.21 766.3h1.9v7.4h-1.9zM1055.45 766.3h1.9v8.8h-1.9z" fill="#f5504f"/>
<path d="M11.62 766.3h1.9v9.9h-1.9zM21.35 766.3h1.9v12.9h-1.9zM27.83 766.3h1.9v11.7h-1.9zM31.07 766.3h1.9v9.6h-1.9zM34.31 766.3h1.9v6.3h-1.9zM37.56 766.3h1.9v4.5h-1.9zM40.80 766.3h1.9v2.6h-1.9zM44.04 766.3h1.9v0.6h-1.9zM173.71 766.3h1.9v7.5h-1.9zM180.19 766.3h1.9v5.7h-1.9zM183.43 766.3h1.9v2.7h-1.9zM186.67 766.3h1.9v0.6h-1.9zM241.78 766.3h1.9v16.2h-1.9zM245.03 766.3h1.9v15.5h-1.9zM254.75 766.3h1.9v13.3h-1.9zM257.99 766.3h1.9v11.1h-1.9zM261.23 766.3h1.9v7.9h-1.9zM264.48 766.3h1.9v5.3h-1.9zM267.72 766.3h1.9v2.9h-1.9zM270.96 766.3h1.9v0.6h-1.9zM371.45 766.3h1.9v4.3h-1.9zM374.69 766.3h1.9v3.4h-1.9zM377.93 766.3h1.9v2.9h-1.9zM381.18 766.3h1.9v2.5h-1.9zM436.29 766.3h1.9v10.2h-1.9zM439.53 766.3h1.9v8.3h-1.9zM452.49 766.3h1.9v7.3h-1.9zM455.74 766.3h1.9v1.2h-1.9zM514.09 766.3h1.9v10.2h-1.9zM517.33 766.3h1.9v9.0h-1.9zM520.57 766.3h1.9v8.8h-1.9zM527.05 766.3h1.9v4.7h-1.9zM556.23 766.3h1.9v1.9h-1.9zM559.47 766.3h1.9v1.2h-1.9zM604.85 766.3h1.9v2.4h-1.9zM608.10 766.3h1.9v1.6h-1.9zM637.27 766.3h1.9v12.2h-1.9zM640.51 766.3h1.9v12.0h-1.9zM643.75 766.3h1.9v11.7h-1.9zM647.00 766.3h1.9v9.5h-1.9zM650.24 766.3h1.9v8.1h-1.9zM653.48 766.3h1.9v4.9h-1.9zM659.96 766.3h1.9v3.3h-1.9zM663.20 766.3h1.9v2.8h-1.9zM666.45 766.3h1.9v2.1h-1.9zM669.69 766.3h1.9v0.9h-1.9zM672.93 766.3h1.9v0.6h-1.9zM676.17 766.3h1.9v0.6h-1.9zM750.73 766.3h1.9v11.9h-1.9zM753.97 766.3h1.9v9.9h-1.9zM757.21 766.3h1.9v7.8h-1.9zM760.46 766.3h1.9v5.6h-1.9zM763.70 766.3h1.9v2.4h-1.9zM880.40 766.3h1.9v14.2h-1.9zM886.88 766.3h1.9v14.2h-1.9zM890.12 766.3h1.9v13.4h-1.9zM893.37 766.3h1.9v13.3h-1.9zM896.61 766.3h1.9v12.7h-1.9zM899.85 766.3h1.9v12.0h-1.9zM909.57 766.3h1.9v9.4h-1.9zM912.82 766.3h1.9v5.3h-1.9zM916.06 766.3h1.9v2.2h-1.9zM922.54 766.3h1.9v2.4h-1.9zM932.27 766.3h1.9v5.9h-1.9zM935.51 766.3h1.9v4.4h-1.9zM941.99 766.3h1.9v2.6h-1.9zM945.23 766.3h1.9v0.6h-1.9z" fill="#ffcdd2"/>
<polyline points="12.6,813.7 15.8,819.2 19.1,824.3 22.3,826.4 25.5,830.7 28.8,831.7 32.0,831.9 35.3,830.2 38.5,829.5 41.7,828.3 45.0,826.3 48.2,821.6 51.5,818.2 54.7,815.7 58.0,812.2 61.2,807.6 64.4,804.9 67.7,802.5 70.9,801.9 74.2,802.6 77.4,801.8 80.6,799.3 83.9,797.6 87.1,796.9 90.4,796.1 93.6,794.4 96.9,794.6 100.1,795.0 103.3,795.5 106.6,794.7 109.8,793.0 113.1,793.4 116.3,789.8 119.5,785.1 122.8,780.4 126.0,775.3 129.3,770.9 132.5,767.1 135.8,764.8 139.0,761.7 142.2,762.8 145.5,766.1 148.7,766.4 152.0,768.5 155.2,766.6 158.4,765.6 161.7,764.4 164.9,765.5 168.2,773.4 171.4,778.5 174.7,779.7 177.9,783.2 181.1,781.5 184.4,779.2 187.6,776.8 190.9,773.9 194.1,772.6 197.3,769.6 200.6,765.3 203.8,762.7 207.1,762.0 210.3,761.1 213.6,762.8 216.8,761.5 220.0,758.2 223.3,757.5 226.5,762.5 229.8,768.3 233.0,778.0 236.2,786.3 239.5,792.0 242.7,795.1 246.0,798.2 249.2,803.1 252.5,808.0 255.7,807.7 258.9,808.3 262.2,807.1 265.4,805.8 268.7,804.1 271.9,801.9 275.2,800.3 278.4,797.8 281.6,793.6 284.9,790.0 288.1,786.3 291.4,784.8 294.6,781.4 297.8,779.0 301.1,776.3 304.3,774.2 307.6,772.5 310.8,771.7 314.1,770.9 317.3,770.1 320.5,769.3 323.8,769.2 327.0,768.9 330.3,769.0 333.5,766.0 336.7,764.3 340.0,763.0 343.2,761.9 346.5,761.4 349.7,761.8 353.0,762.0 356.2,763.2 359.4,766.0 362.7,767.5 365.9,768.5 369.2,771.2 372.4,772.2 375.6,772.2 378.9,772.4 382.1,772.6 385.4,766.8 388.6,762.6 391.9,758.3 395.1,755.4 398.3,753.7 401.6,750.5 404.8,748.3 408.1,746.5 411.3,746.1 414.5,747.7 417.8,748.2 421.0,750.3 424.3,756.2 427.5,762.0 430.8,766.0 434.0,769.8 437.2,771.9 440.5,772.1 443.7,775.7 447.0,779.3 450.2,782.1 453.4,780.6 456.7,774.8 459.9,766.7 463.2,752.8 466.4,744.5 469.7,738.6 472.9,735.3 476.1,731.8 479.4,729.5 482.6,728.5 485.9,729.5 489.1,732.6 492.3,733.6 495.6,737.0 498.8,739.4 502.1,743.9 505.3,748.7 508.6,753.3 511.8,756.4 515.0,758.7 518.3,759.7 521.5,761.7 524.8,764.3 528.0,761.0 531.2,756.0 534.5,753.2 537.7,751.3 541.0,752.6 544.2,754.3 547.5,756.4 550.7,756.8 553.9,758.5 557.2,758.2 560.4,757.8 563.7,755.7 566.9,754.3 570.1,751.6 573.4,748.1 576.6,746.2 579.9,745.9 583.1,746.3 586.4,747.8 589.6,749.8 592.8,751.3 596.1,751.9 599.3,753.2 602.6,754.8 605.8,754.7 609.0,754.3 612.3,750.7 615.5,750.0 618.8,750.8 622.0,758.9 625.3,765.2 628.5,770.0 631.7,774.2 635.0,777.4 638.2,780.0 641.5,782.8 644.7,785.4 647.9,785.6 651.2,786.3 654.4,784.2 657.7,786.0 660.9,784.8 664.2,784.9 667.4,784.9 670.6,783.8 673.9,783.7 677.1,783.2 680.4,777.9 683.6,776.1 686.8,773.5 690.1,768.6 693.3,765.1 696.6,755.1 699.8,749.1 703.1,744.7 706.3,742.7 709.5,740.5 712.8,738.2 716.0,737.7 719.3,733.1 722.5,734.0 725.7,736.7 729.0,743.0 732.2,748.5 735.5,753.2 738.7,756.4 742.0,760.5 745.2,765.0 748.4,768.9 751.7,771.1 754.9,771.6 758.2,771.5 761.4,770.7 764.6,768.1 767.9,763.8 771.1,762.3 774.4,761.2 777.6,760.1 780.9,758.3 784.1,756.8 787.3,756.2 790.6,756.1 793.8,756.3 797.1,757.4 800.3,753.1 803.5,749.8 806.8,737.9 810.0,732.1 813.3,727.6 816.5,726.8 819.8,728.1 823.0,730.3 826.2,730.5 829.5,729.4 832.7,730.5 836.0,726.3 839.2,723.9 842.4,723.1 845.7,724.4 848.9,727.3 852.2,730.0 855.4,732.1 858.7,735.6 861.9,738.4 865.1,740.8 868.4,745.5 871.6,752.4 874.9,757.4 878.1,761.2 881.3,764.3 884.6,768.7 887.8,771.7 891.1,774.1 894.3,777.4 897.6,780.0 900.8,782.3 904.0,785.7 907.3,788.8 910.5,788.2 913.8,785.4 917.0,782.8 920.2,784.1 923.5,784.4 926.7,786.3 930.0,790.9 933.2,791.8 936.5,791.5 939.7,793.1 942.9,791.5 946.2,789.0 949.4,786.8 952.7,784.2 955.9,780.5 959.1,777.8 962.4,775.2 965.6,772.8 968.9,772.6 972.1,772.1 975.4,772.3 978.6,770.9 981.8,769.6 985.1,768.1 988.3,767.0 991.6,766.0 994.8,764.9 998.0,766.1 1001.3,769.1 1004.5,769.7 1007.8,767.6 1011.0,765.5 1014.3,760.9 1017.5,755.4 1020.7,751.0 1024.0,747.2 1027.2,744.3 1030.5,739.9 1033.7,739.5 1036.9,740.3 1040.2,742.6 1043.4,744.0 1046.7,747.5 1049.9,751.7 1053.2,756.9 1056.4,760.5" fill="none" stroke="#3064ea" stroke-width="1.15" stroke-linejoin="round"/>
<polyline points="12.6,803.8 15.8,806.9 19.1,810.4 22.3,813.6 25.5,817.0 28.8,819.9 32.0,822.3 35.3,823.9 38.5,825.0 41.7,825.7 45.0,825.8 48.2,825.0 51.5,823.6 54.7,822.0 58.0,820.1 61.2,817.6 64.4,815.1 67.7,812.6 70.9,810.4 74.2,808.9 77.4,807.4 80.6,805.8 83.9,804.2 87.1,802.7 90.4,801.4 93.6,800.0 96.9,798.9 100.1,798.1 103.3,797.6 106.6,797.0 109.8,796.2 113.1,795.6 116.3,794.5 119.5,792.6 122.8,790.2 126.0,787.2 129.3,783.9 132.5,780.6 135.8,777.4 139.0,774.3 142.2,772.0 145.5,770.8 148.7,769.9 152.0,769.6 155.2,769.0 158.4,768.3 161.7,767.6 164.9,767.1 168.2,768.4 171.4,770.4 174.7,772.3 177.9,774.5 181.1,775.9 184.4,776.6 187.6,776.6 190.9,776.1 194.1,775.4 197.3,774.2 200.6,772.4 203.8,770.5 207.1,768.8 210.3,767.2 213.6,766.4 216.8,765.4 220.0,763.9 223.3,762.6 226.5,762.6 229.8,763.7 233.0,766.6 236.2,770.5 239.5,774.8 242.7,778.9 246.0,782.8 249.2,786.8 252.5,791.1 255.7,794.4 258.9,797.2 262.2,799.2 265.4,800.5 268.7,801.2 271.9,801.4 275.2,801.1 278.4,800.5 281.6,799.1 284.9,797.3 288.1,795.1 291.4,793.0 294.6,790.7 297.8,788.3 301.1,785.9 304.3,783.6 307.6,781.4 310.8,779.4 314.1,777.7 317.3,776.2 320.5,774.8 323.8,773.7 327.0,772.7 330.3,772.0 333.5,770.8 336.7,769.5 340.0,768.2 343.2,766.9 346.5,765.8 349.7,765.0 353.0,764.4 356.2,764.2 359.4,764.5 362.7,765.1 365.9,765.8 369.2,766.9 372.4,767.9 375.6,768.8 378.9,769.5 382.1,770.1 385.4,769.5 388.6,768.1 391.9,766.1 395.1,764.0 398.3,761.9 401.6,759.6 404.8,757.4 408.1,755.2 411.3,753.4 414.5,752.2 417.8,751.4 421.0,751.2 424.3,752.2 427.5,754.2 430.8,756.5 434.0,759.2 437.2,761.7 440.5,763.8 443.7,766.2 447.0,768.8 450.2,771.5 453.4,773.3 456.7,773.6 459.9,772.2 463.2,768.3 466.4,763.6 469.7,758.6 472.9,753.9 476.1,749.5 479.4,745.5 482.6,742.1 485.9,739.6 489.1,738.2 492.3,737.3 495.6,737.2 498.8,737.7 502.1,738.9 505.3,740.9 508.6,743.3 511.8,746.0 515.0,748.5 518.3,750.7 521.5,752.9 524.8,755.2 528.0,756.4 531.2,756.3 534.5,755.7 537.7,754.8 541.0,754.3 544.2,754.3 547.5,754.8 550.7,755.2 553.9,755.8 557.2,756.3 560.4,756.6 563.7,756.4 566.9,756.0 570.1,755.1 573.4,753.7 576.6,752.2 579.9,751.0 583.1,750.0 586.4,749.6 589.6,749.6 592.8,749.9 596.1,750.3 599.3,750.9 602.6,751.7 605.8,752.3 609.0,752.7 612.3,752.3 615.5,751.8 618.8,751.6 622.0,753.1 625.3,755.5 628.5,758.4 631.7,761.6 635.0,764.7 638.2,767.8 641.5,770.8 644.7,773.7 647.9,776.1 651.2,778.1 654.4,779.3 657.7,780.7 660.9,781.5 664.2,782.2 667.4,782.7 670.6,782.9 673.9,783.1 677.1,783.1 680.4,782.1 683.6,780.9 686.8,779.4 690.1,777.2 693.3,774.8 696.6,770.8 699.8,766.5 703.1,762.1 706.3,758.2 709.5,754.7 712.8,751.4 716.0,748.6 719.3,745.5 722.5,743.2 725.7,741.9 729.0,742.1 732.2,743.4 735.5,745.4 738.7,747.6 742.0,750.2 745.2,753.1 748.4,756.3 751.7,759.3 754.9,761.7 758.2,763.7 761.4,765.1 764.6,765.7 767.9,765.3 771.1,764.7 774.4,764.0 777.6,763.2 780.9,762.2 784.1,761.1 787.3,760.2 790.6,759.3 793.8,758.7 797.1,758.5 800.3,757.4 803.5,755.9 806.8,752.3 810.0,748.3 813.3,744.1 816.5,740.6 819.8,738.1 823.0,736.6 826.2,735.4 829.5,734.2 832.7,733.4 836.0,732.0 839.2,730.4 842.4,728.9 845.7,728.0 848.9,727.9 852.2,728.3 855.4,729.1 858.7,730.4 861.9,732.0 865.1,733.7 868.4,736.1 871.6,739.4 874.9,743.0 878.1,746.6 881.3,750.2 884.6,753.9 887.8,757.4 891.1,760.8 894.3,764.1 897.6,767.3 900.8,770.3 904.0,773.4 907.3,776.5 910.5,778.8 913.8,780.1 917.0,780.7 920.2,781.4 923.5,782.0 926.7,782.8 930.0,784.5 933.2,785.9 936.5,787.0 939.7,788.3 942.9,788.9 946.2,788.9 949.4,788.5 952.7,787.7 955.9,786.2 959.1,784.5 962.4,782.7 965.6,780.7 968.9,779.1 972.1,777.7 975.4,776.6 978.6,775.5 981.8,774.3 985.1,773.1 988.3,771.9 991.6,770.7 994.8,769.5 998.0,768.8 1001.3,768.9 1004.5,769.1 1007.8,768.8 1011.0,768.1 1014.3,766.7 1017.5,764.4 1020.7,761.7 1024.0,758.8 1027.2,755.9 1030.5,752.7 1033.7,750.1 1036.9,748.1 1040.2,747.0 1043.4,746.4 1046.7,746.6 1049.9,747.6 1053.2,749.5 1056.4,751.7" fill="none" stroke="#f27a18" stroke-width="1.15" stroke-linejoin="round"/>
<path d="M18.5 696.2L56 683" stroke="#4caf50" stroke-width="2" fill="none" stroke-linecap="round"/>
<path d="M74.3 677.5L105 676.5" stroke="#4caf50" stroke-width="2" fill="none" stroke-linecap="round"/>
<rect x="55.7" y="677.3" width="34.4" height="18.2" rx="2.5" fill="#4caf50"/>
<text x="72.9" y="691.8" font-size="13.7" fill="#fff" text-anchor="middle" font-weight="normal" textLength="23.0" lengthAdjust="spacing" >Bull</text>
<rect x="88.8" y="676.2" width="32.6" height="18.4" rx="2.5" fill="#4caf50"/>
<text x="105.1" y="690.8000000000001" font-size="13.7" fill="#fff" text-anchor="middle" font-weight="normal" textLength="23.0" lengthAdjust="spacing" >Bull</text>
<path d="M806.7 585.5L815 591.8" stroke="#f23645" stroke-width="2" fill="none" stroke-linecap="round"/>
<rect x="698.7" y="588.1" width="41.3" height="18.5" rx="2.5" fill="#f23645"/>
<text x="719.35" y="602.75" font-size="13.7" fill="#fff" text-anchor="middle" font-weight="normal" textLength="29.2" lengthAdjust="spacing" >Bear</text>
<rect x="814.8" y="588.6" width="41.8" height="18.3" rx="2.5" fill="#f23645"/>
<text x="835.7" y="603.15" font-size="13.7" fill="#fff" text-anchor="middle" font-weight="normal" textLength="29.2" lengthAdjust="spacing" >Bear</text>
<path d="M906.9 683.8L927.6 683.3" stroke="#4caf50" stroke-width="2" fill="none"/>
<rect x="912.3" y="681.7" width="35.8" height="17.9" rx="2.5" fill="#4caf50"/>
<text x="930.2" y="696.0500000000001" font-size="13.7" fill="#fff" text-anchor="middle" font-weight="normal" textLength="23.0" lengthAdjust="spacing" >Bull</text>
<rect x="1215.5" y="31" width="61" height="847" fill="#fff"/>
<path d="M1276.5 30.5V878" stroke="#f1f2f4" stroke-width="1" fill="none"/>
<path d="M1215.0 572.5H1276 M1215.0 708.5H1276" stroke="#e4e7ec" stroke-width="1" fill="none"/>
<text x="1226.2" y="550.0600000000001" font-size="14" fill="#131722" text-anchor="start" font-weight="normal" textLength="38.6" lengthAdjust="spacing" >76.00</text>
<text x="1226.2" y="502.22" font-size="14" fill="#131722" text-anchor="start" font-weight="normal" textLength="38.6" lengthAdjust="spacing" >78.00</text>
<text x="1226.2" y="454.38" font-size="14" fill="#131722" text-anchor="start" font-weight="normal" textLength="38.6" lengthAdjust="spacing" >80.00</text>
<text x="1226.2" y="406.54" font-size="14" fill="#131722" text-anchor="start" font-weight="normal" textLength="38.6" lengthAdjust="spacing" >82.00</text>
<text x="1226.2" y="358.70000000000005" font-size="14" fill="#131722" text-anchor="start" font-weight="normal" textLength="38.6" lengthAdjust="spacing" >84.00</text>
<text x="1226.2" y="263.02" font-size="14" fill="#131722" text-anchor="start" font-weight="normal" textLength="38.6" lengthAdjust="spacing" >88.00</text>
<text x="1226.2" y="215.18" font-size="14" fill="#131722" text-anchor="start" font-weight="normal" textLength="38.6" lengthAdjust="spacing" >90.00</text>
<text x="1226.2" y="167.34" font-size="14" fill="#131722" text-anchor="start" font-weight="normal" textLength="38.6" lengthAdjust="spacing" >92.00</text>
<text x="1226.2" y="119.5" font-size="14" fill="#131722" text-anchor="start" font-weight="normal" textLength="38.6" lengthAdjust="spacing" >94.00</text>
<clipPath id="cr"><rect x="1215" y="573" width="62" height="135"/></clipPath>
<g clip-path="url(#cr)">
<text x="1226.2" y="587.4" font-size="14" fill="#131722" text-anchor="start" font-weight="normal" textLength="38.6" lengthAdjust="spacing" >80.00</text>
<text x="1226.2" y="627.8" font-size="14" fill="#131722" text-anchor="start" font-weight="normal" textLength="38.6" lengthAdjust="spacing" >60.00</text>
<text x="1226.2" y="668.1999999999999" font-size="14" fill="#131722" text-anchor="start" font-weight="normal" textLength="38.6" lengthAdjust="spacing" >40.00</text>
<text x="1226.2" y="708.6" font-size="14" fill="#131722" text-anchor="start" font-weight="normal" textLength="38.6" lengthAdjust="spacing" >20.00</text>
</g>
<text x="1224.5" y="806.0999999999999" font-size="14" fill="#131722" text-anchor="start" font-weight="normal" textLength="40" lengthAdjust="spacing" >−1.00</text>
<rect x="1147.4" y="295" width="67.2" height="20" rx="2.5" fill="#089981"/>
<text x="1153.3" y="310" font-size="14" fill="#fff" text-anchor="start" font-weight="normal" textLength="56" lengthAdjust="spacing" >SOLUSD</text>
<rect x="1216.2" y="295.1" width="55.09999999999991" height="20" rx="2" fill="#089981"/>
<text x="1226.7" y="310.1" font-size="14" fill="#b6f1e3" text-anchor="start" font-weight="normal" textLength="37" lengthAdjust="spacing" >35:01</text>
<rect x="1216.2" y="645" width="55.09999999999991" height="20" rx="2" fill="#2962ff"/>
<text x="1226.3" y="660" font-size="14" fill="#fff" text-anchor="start" font-weight="normal" textLength="38.3" lengthAdjust="spacing" >44.00</text>
<rect x="1215.8" y="724.9" width="47.40000000000009" height="20" rx="2" fill="#ff6d00"/>
<text x="1226.3" y="739.9" font-size="14" fill="#fff" text-anchor="start" font-weight="normal" textLength="29" lengthAdjust="spacing" >0.41</text>
<rect x="1215.8" y="745" width="47.40000000000009" height="20" rx="2" fill="#2962ff"/>
<text x="1226.3" y="760" font-size="14" fill="#fff" text-anchor="start" font-weight="normal" textLength="29" lengthAdjust="spacing" >0.16</text>
<rect x="1215.8" y="765.2" width="55.40000000000009" height="20" rx="2" fill="#ff5252"/>
<text x="1224.8" y="780.2" font-size="14" fill="#fff" text-anchor="start" font-weight="normal" textLength="38.5" lengthAdjust="spacing" >−0.25</text>
<rect x="1219.5" y="37.5" width="52" height="30" rx="4" fill="#fff" stroke="#f0f2f5" stroke-width="1"/>
<text x="1245.5" y="56.4" font-size="14" fill="#131722" text-anchor="middle" font-weight="normal" textLength="30" lengthAdjust="spacing" >USD</text>
<text x="77.7" y="866.6" font-size="14" fill="#131722" text-anchor="middle" font-weight="normal" textLength="16.2" lengthAdjust="spacing" >29</text>
<text x="194.4" y="866.6" font-size="14" fill="#131722" text-anchor="middle" font-weight="bold" textLength="25.4" lengthAdjust="spacing" >Apr</text>
<text x="272.2" y="866.6" font-size="14" fill="#131722" text-anchor="middle" font-weight="normal" >3</text>
<text x="350.0" y="866.6" font-size="14" fill="#131722" text-anchor="middle" font-weight="normal" >5</text>
<text x="427.8" y="866.6" font-size="14" fill="#131722" text-anchor="middle" font-weight="normal" >7</text>
<text x="505.59999999999997" y="866.6" font-size="14" fill="#131722" text-anchor="middle" font-weight="normal" >9</text>
<text x="583.4" y="866.6" font-size="14" fill="#131722" text-anchor="middle" font-weight="normal" textLength="16.2" lengthAdjust="spacing" >11</text>
<text x="661.1999999999999" y="866.6" font-size="14" fill="#131722" text-anchor="middle" font-weight="normal" textLength="16.2" lengthAdjust="spacing" >13</text>
<text x="739.0" y="866.6" font-size="14" fill="#131722" text-anchor="middle" font-weight="normal" textLength="16.2" lengthAdjust="spacing" >15</text>
<text x="816.8" y="866.6" font-size="14" fill="#131722" text-anchor="middle" font-weight="normal" textLength="16.2" lengthAdjust="spacing" >17</text>
<text x="894.5999999999999" y="866.6" font-size="14" fill="#131722" text-anchor="middle" font-weight="normal" textLength="16.2" lengthAdjust="spacing" >19</text>
<text x="972.4" y="866.6" font-size="14" fill="#131722" text-anchor="middle" font-weight="normal" textLength="16.2" lengthAdjust="spacing" >21</text>
<text x="1050.1999999999998" y="866.6" font-size="14" fill="#131722" text-anchor="middle" font-weight="normal" textLength="16.2" lengthAdjust="spacing" >23</text>
<text x="1127.9999999999998" y="866.6" font-size="14" fill="#131722" text-anchor="middle" font-weight="normal" textLength="16.2" lengthAdjust="spacing" >25</text>
<text x="1205.8" y="866.6" font-size="14" fill="#131722" text-anchor="middle" font-weight="normal" textLength="16.2" lengthAdjust="spacing" >27</text>
<text x="12.4" y="24" font-size="14" fill="#131722" text-anchor="start" font-weight="normal" textLength="134.8" lengthAdjust="spacing" >ParshwaTurakhiya28</text>
<text x="153" y="24" font-size="14" fill="#131722" text-anchor="start" font-weight="normal" textLength="49.3" lengthAdjust="spacing" >created</text>
<text x="208" y="24" font-size="14" fill="#131722" text-anchor="start" font-weight="normal" textLength="25.8" lengthAdjust="spacing" >with</text>
<text x="239.6" y="24" font-size="14" fill="#131722" text-anchor="start" font-weight="normal" textLength="116" lengthAdjust="spacing" >TradingView.com,</text>
<text x="361.6" y="24" font-size="14" fill="#131722" text-anchor="start" font-weight="normal" textLength="22.4" lengthAdjust="spacing" >Apr</text>
<text x="390" y="24" font-size="14" fill="#131722" text-anchor="start" font-weight="normal" textLength="18" lengthAdjust="spacing" >23,</text>
<text x="414.8" y="24" font-size="14" fill="#131722" text-anchor="start" font-weight="normal" textLength="33" lengthAdjust="spacing" >2026</text>
<text x="453.8" y="24" font-size="14" fill="#131722" text-anchor="start" font-weight="normal" textLength="37.2" lengthAdjust="spacing" >05:24</text>
<text x="496.7" y="24" font-size="14" fill="#131722" text-anchor="start" font-weight="normal" textLength="28.1" lengthAdjust="spacing" >UTC</text>
<text x="21.4" y="55.9" font-size="14" fill="#131722" text-anchor="start" font-weight="normal" textLength="44.3" lengthAdjust="spacing" >Solana</text>
<text x="69.9" y="55.9" font-size="14" fill="#131722" text-anchor="start" font-weight="normal" textLength="5" lengthAdjust="spacing" >/</text>
<text x="78.7" y="55.9" font-size="14" fill="#131722" text-anchor="start" font-weight="normal" textLength="27.3" lengthAdjust="spacing" >U.S.</text>
<text x="110" y="55.9" font-size="14" fill="#131722" text-anchor="start" font-weight="normal" textLength="38" lengthAdjust="spacing" >Dollar</text>
<text x="153.6" y="55.9" font-size="14" fill="#131722" text-anchor="start" font-weight="normal" textLength="2.2" lengthAdjust="spacing" >·</text>
<text x="162" y="55.9" font-size="14" fill="#131722" text-anchor="start" font-weight="normal" textLength="15" lengthAdjust="spacing" >2h</text>
<text x="182.9" y="55.9" font-size="14" fill="#131722" text-anchor="start" font-weight="normal" textLength="2.2" lengthAdjust="spacing" >·</text>
<text x="190.5" y="55.9" font-size="14" fill="#131722" text-anchor="start" font-weight="normal" textLength="61.1" lengthAdjust="spacing" >Coinbase</text>
<text x="261.2" y="55.9" font-size="14" fill="#131722" text-anchor="start" font-weight="normal" >O</text>
<text x="271.5" y="55.9" font-size="14" fill="#089981" text-anchor="start" font-weight="normal" textLength="37.5" lengthAdjust="spacing" >85.79</text>
<text x="318" y="55.9" font-size="14" fill="#131722" text-anchor="start" font-weight="normal" >H</text>
<text x="328" y="55.9" font-size="14" fill="#089981" text-anchor="start" font-weight="normal" textLength="36.5" lengthAdjust="spacing" >86.16</text>
<text x="373.5" y="55.9" font-size="14" fill="#131722" text-anchor="start" font-weight="normal" >L</text>
<text x="381" y="55.9" font-size="14" fill="#089981" text-anchor="start" font-weight="normal" textLength="37.5" lengthAdjust="spacing" >85.67</text>
<text x="427.5" y="55.9" font-size="14" fill="#131722" text-anchor="start" font-weight="normal" >C</text>
<text x="437.5" y="55.9" font-size="14" fill="#089981" text-anchor="start" font-weight="normal" textLength="38" lengthAdjust="spacing" >86.02</text>
<text x="484" y="55.9" font-size="14" fill="#089981" text-anchor="start" font-weight="normal" textLength="37.5" lengthAdjust="spacing" >+0.21</text>
<text x="527.5" y="55.9" font-size="14" fill="#089981" text-anchor="start" font-weight="normal" textLength="57.5" lengthAdjust="spacing" >(+0.24%)</text>
<text x="21.6" y="596.3" font-size="14" fill="#131722" text-anchor="start" font-weight="normal" textLength="21" lengthAdjust="spacing" >RSI</text>
<text x="47.8" y="596.3" font-size="14" fill="#131722" text-anchor="start" font-weight="normal" textLength="74.5" lengthAdjust="spacing" >Divergence</text>
<text x="127.5" y="596.3" font-size="14" fill="#131722" text-anchor="start" font-weight="normal" textLength="57.5" lengthAdjust="spacing" >Indicator</text>
<text x="191.4" y="596.3" font-size="14" fill="#131722" text-anchor="start" font-weight="normal" textLength="21" lengthAdjust="spacing" >(14,</text>
<text x="218.7" y="596.3" font-size="14" fill="#131722" text-anchor="start" font-weight="normal" textLength="39.3" lengthAdjust="spacing" >close)</text>
<text x="267.8" y="596.0" font-size="13.5" fill="#2962ff" text-anchor="start" font-weight="normal" textLength="37.7" lengthAdjust="spacing" >44.00</text>
<g stroke="#131722" stroke-width="1.25" fill="none"><ellipse cx="319.6" cy="591.8" rx="3.7" ry="3.5" transform="rotate(-20 319.6 591.8)"/><path d="M315.3 595.5L323.90000000000003 588.0999999999999"/></g>
<g stroke="#131722" stroke-width="1.25" fill="none"><ellipse cx="337.6" cy="591.8" rx="3.7" ry="3.5" transform="rotate(-20 337.6 591.8)"/><path d="M333.3 595.5L341.90000000000003 588.0999999999999"/></g>
<g stroke="#131722" stroke-width="1.25" fill="none"><ellipse cx="355.9" cy="591.8" rx="3.7" ry="3.5" transform="rotate(-20 355.9 591.8)"/><path d="M351.59999999999997 595.5L360.2 588.0999999999999"/></g>
<g stroke="#131722" stroke-width="1.25" fill="none"><ellipse cx="374.0" cy="591.8" rx="3.7" ry="3.5" transform="rotate(-20 374.0 591.8)"/><path d="M369.7 595.5L378.3 588.0999999999999"/></g>
<text x="21.6" y="732.6" font-size="14" fill="#131722" text-anchor="start" font-weight="normal" textLength="39.9" lengthAdjust="spacing" >MACD</text>
<text x="68.8" y="732.6" font-size="14" fill="#131722" text-anchor="start" font-weight="normal" textLength="41.9" lengthAdjust="spacing" >(close,</text>
<text x="116.6" y="732.6" font-size="14" fill="#131722" text-anchor="start" font-weight="normal" textLength="15.7" lengthAdjust="spacing" >12,</text>
<text x="139.7" y="732.6" font-size="14" fill="#131722" text-anchor="start" font-weight="normal" textLength="18.8" lengthAdjust="spacing" >26,</text>
<text x="164.8" y="732.6" font-size="14" fill="#131722" text-anchor="start" font-weight="normal" textLength="12" lengthAdjust="spacing" >9)</text>
<text x="187.5" y="732.6" font-size="14" fill="#f7525f" text-anchor="start" font-weight="normal" textLength="36.5" lengthAdjust="spacing" >−0.25</text>
<text x="233.8" y="732.6" font-size="14" fill="#2962ff" text-anchor="start" font-weight="normal" textLength="26" lengthAdjust="spacing" >0.16</text>
<text x="269.6" y="732.6" font-size="14" fill="#ff6d00" text-anchor="start" font-weight="normal" textLength="26.5" lengthAdjust="spacing" >0.41</text>
<g transform="translate(14.05,899.27) scale(1.0,0.97)" fill="#131722"><path d="M14 22H7V11H0V4h14v18zM28 22h-8l7.5-18h8L28 22z"/><circle cx="20" cy="8" r="4"/></g>
<text x="58.0" y="920.6" font-size="24.2" fill="#131722" text-anchor="start" font-weight="bold" textLength="142.3" lengthAdjust="spacing" >TradingView</text>
</svg></body></html>
